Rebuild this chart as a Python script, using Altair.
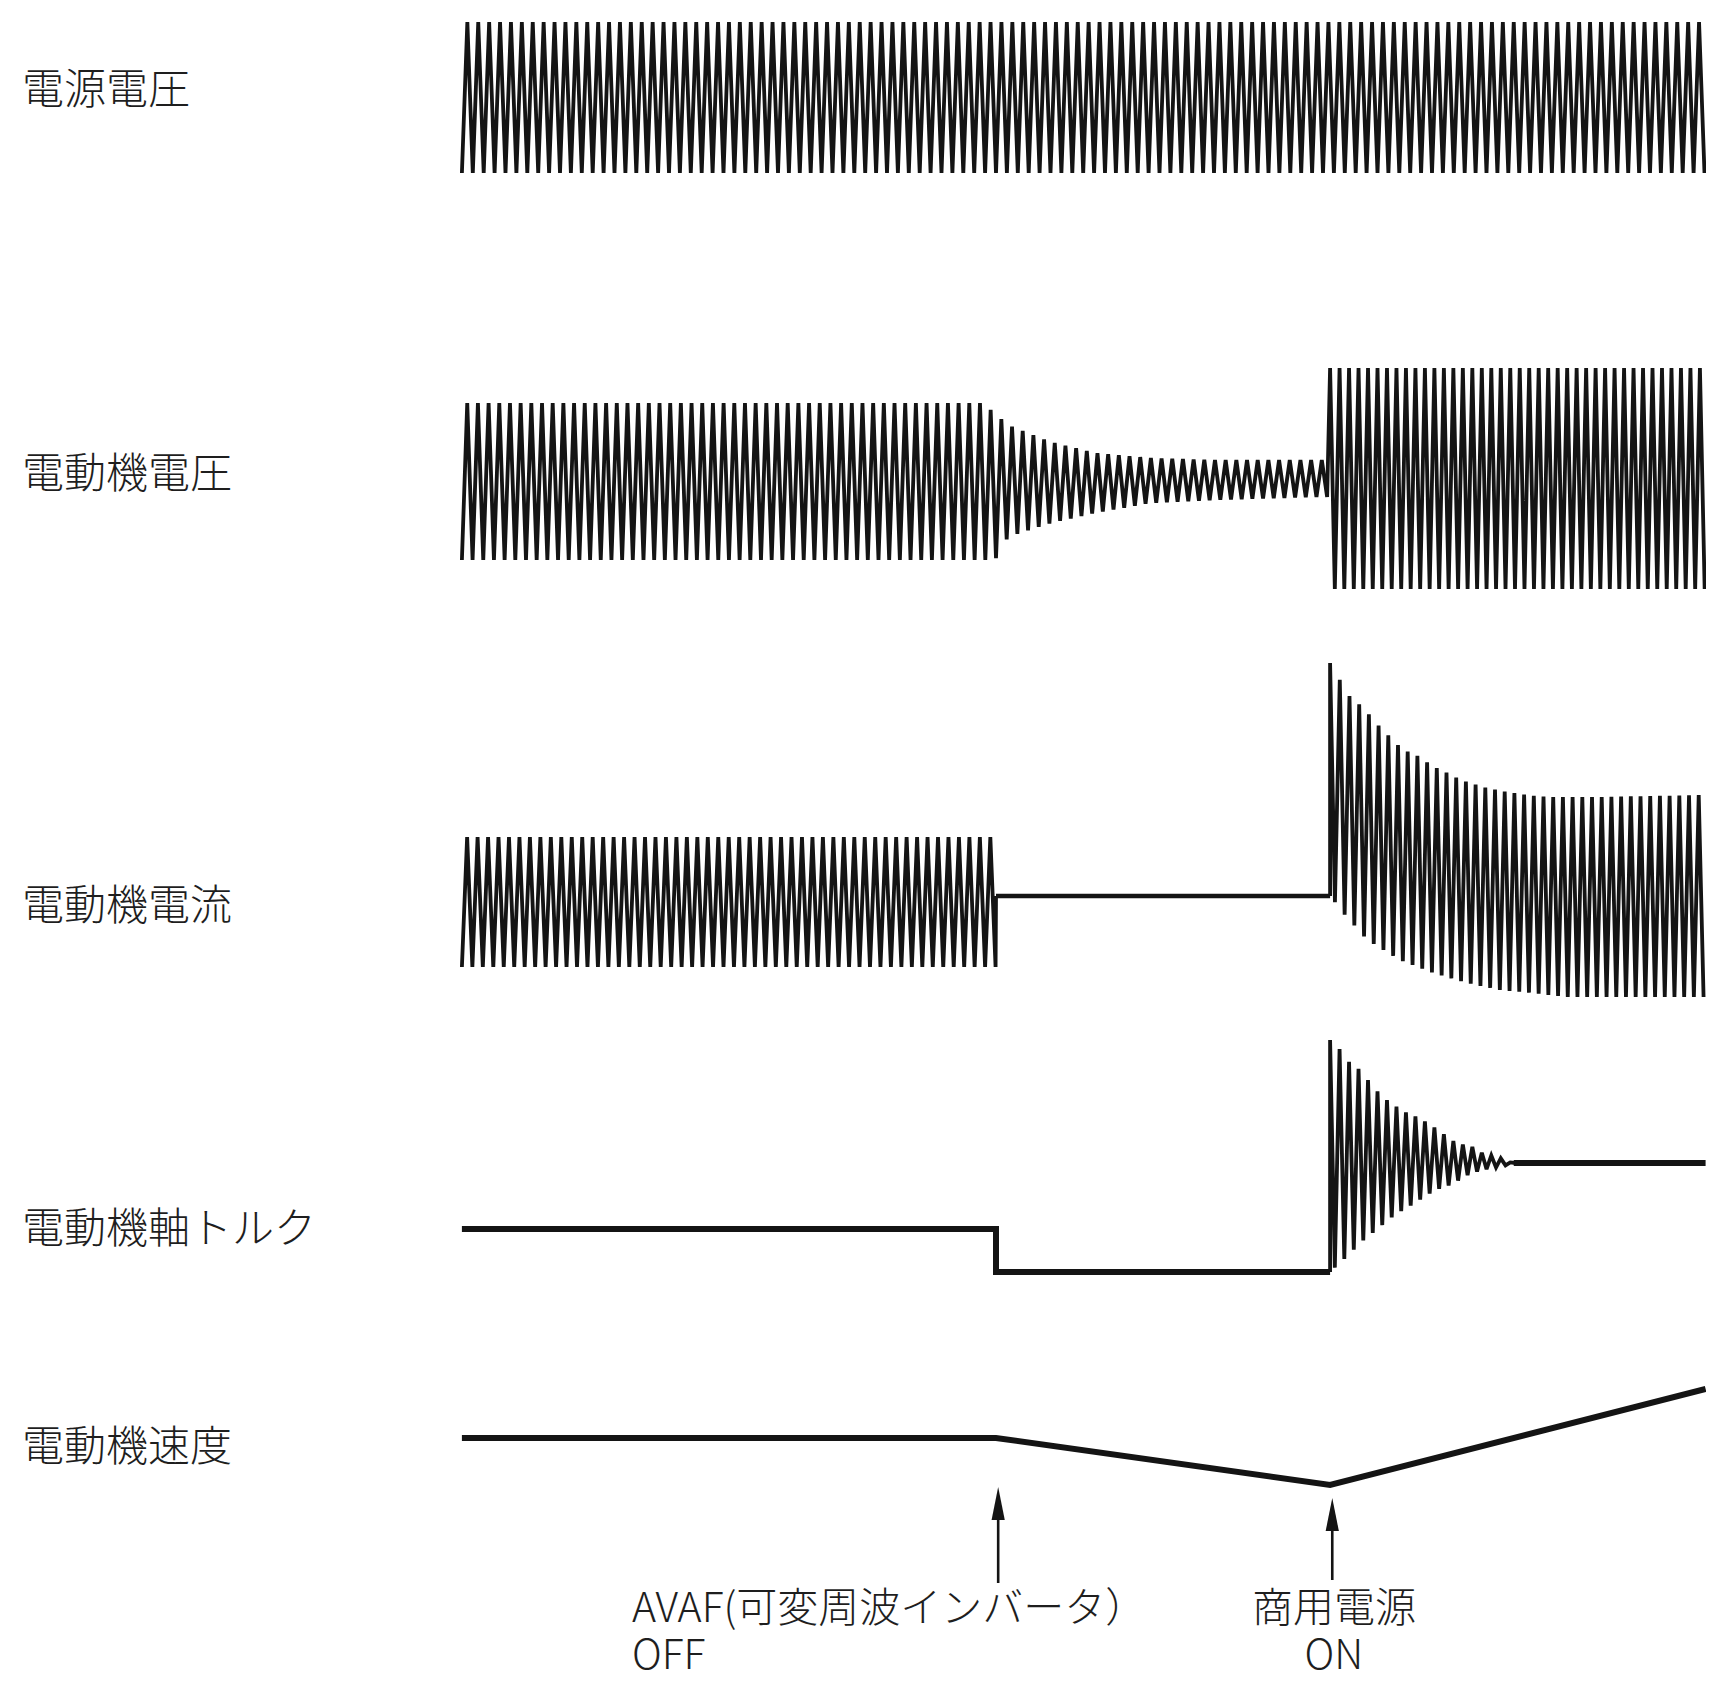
import altair as alt
import numpy as np
import pandas as pd

# ---------------- data (time in ms, 0 = AVAF OFF) ----------------
T_START = -980
T_OFF = 0
T_ON = 613
T_END = 1302

LABELS = ["電源電圧", "電動機電圧", "電動機電流", "電動機軸トルク", "電動機速度"]

# 電源電圧 : constant amplitude supply
SUP_PERIOD = 20.0
SUP_TOP = 75
SUP_BOT = -76

# 電動機電圧 : inverter, then residual voltage decaying, then supply
MV_PERIOD_1 = 19.6
MV_TOP_T = [-980, -24, 22, 101, 182, 283, 398, 582, 613]
MV_TOP_V = [77, 77, 55, 38, 27, 22, 20, 20, 20]
MV_BOT_T = [-980, -2, 22, 101, 182, 283, 398, 582, 613]
MV_BOT_V = [-80, -80, -57, -43, -33, -23, -20, -17, -17]
MV_PERIOD_2 = 17.4
MV_TOP_2 = 112
MV_BOT_2 = -109

# 電動機電流 : inverter current, zero while coasting, inrush after ON
MC_PERIOD_1 = 19.2
MC_TOP_1 = 59
MC_BOT_1 = -71
MC_PERIOD_2 = 17.8
MC_TOP_T = [613, 628, 646, 662, 681, 697, 714, 728, 747, 763, 778, 793, 809,
            828, 846, 864, 883, 901, 919, 938, 974, 1011, 1108, 1302]
MC_TOP_V = [233, 219, 201, 194, 184, 173, 164, 156, 146, 143, 139, 133, 128,
            123, 118, 114, 111, 108, 106, 104, 101, 99, 99, 101]
MC_BOT_T = [613, 637, 681, 741, 802, 864, 925, 985, 1046, 1302]
MC_BOT_V = [0, -17, -44, -64, -77, -87, -94, -97, -101, -101]

# 電動機軸トルク
TQ_BEFORE = 43
TQ_COAST = 0
TQ_FINAL = 109
TQ_PERIOD = 17.4
TQ_TOP_T = [613, 629, 648, 666, 684, 701, 717, 736, 754, 772, 789, 806, 824,
            842, 859, 875, 892, 906, 925, 939, 950]
TQ_TOP_V = [232, 224, 210, 203, 191, 180, 172, 165, 159, 155, 150, 144, 137,
            130, 127, 125, 119, 117, 114, 110, 109]
TQ_BOT_T = [613, 633, 651, 668, 686, 703, 719, 738, 754, 772, 791, 807, 824,
            842, 857, 875, 892, 910, 925, 950]
TQ_BOT_V = [0, 10, 19, 29, 37, 44, 52, 59, 64, 70, 77, 82, 85, 89, 95, 99,
            102, 104, 105, 109]
TQ_SETTLE = 945

# 電動機速度
SP_T = [-980, 0, 613, 1302]
SP_V = [47, 47, 0, 96]

# event annotations
ARROW_T = [4, 617]
NOTE_TEXT = ["AVAF(可変周波インバータ）\nOFF", "商用電源\nON"]
NOTE_T = [-668, 620]

# ---------------- layout (image pixel positions) ----------------
TRACK_ZERO = {"電源電圧": 97, "電動機電圧": 480, "電動機電流": 896,
              "電動機軸トルク": 1272, "電動機速度": 1485}
LABEL_Y = [91, 475, 907, 1230, 1448]
NOTE_Y_TOP = 1590
NOTE_ALIGN = ["left", "center"]
ARROW_Y_TAIL = [1583, 1580]
ARROW_TIP = [1487, 1498]
HEAD_LEN = 33
PX_PER_MS = 0.545
X0_PX = 996


def zigzag(t0, t1, period, top_t, top_v, bot_t, bot_v, start_top=True):
    n = int(round((t1 - t0) / (period / 2.0)))
    ts = t0 + np.arange(n + 1) * period / 2.0
    ts = ts[ts <= t1 + 1e-9]
    top = np.interp(ts, top_t, top_v)
    bot = np.interp(ts, bot_t, bot_v)
    even = (np.arange(len(ts)) % 2 == 0)
    if not start_top:
        even = ~even
    vals = np.where(even, top, bot)
    return list(zip(ts.tolist(), vals.tolist()))


# (segment name, track, line style, points)
segments = []
segments.append(("sup", "電源電圧", "wave",
                 zigzag(T_START, T_END, SUP_PERIOD, [T_START, T_END], [SUP_TOP, SUP_TOP],
                        [T_START, T_END], [SUP_BOT, SUP_BOT], start_top=False)))
segments.append(("mv", "電動機電圧", "wave",
                 zigzag(T_START, T_ON, MV_PERIOD_1, MV_TOP_T, MV_TOP_V, MV_BOT_T, MV_BOT_V, start_top=False)
                 + zigzag(T_ON, T_END, MV_PERIOD_2, [T_ON, T_END], [MV_TOP_2, MV_TOP_2],
                          [T_ON, T_END], [MV_BOT_2, MV_BOT_2])))
segments.append(("mc1", "電動機電流", "wave",
                 zigzag(T_START, T_OFF, MC_PERIOD_1, [T_START, T_OFF], [MC_TOP_1, MC_TOP_1],
                        [T_START, T_OFF], [MC_BOT_1, MC_BOT_1], start_top=False) + [(T_OFF, 0)]))
segments.append(("mc0", "電動機電流", "flat", [(T_OFF, 0), (T_ON, 0)]))
segments.append(("mc2", "電動機電流", "wave",
                 [(T_ON, 0)] + zigzag(T_ON, T_END, MC_PERIOD_2, MC_TOP_T, MC_TOP_V, MC_BOT_T, MC_BOT_V)))
segments.append(("tq1", "電動機軸トルク", "thick",
                 [(T_START, TQ_BEFORE), (T_OFF, TQ_BEFORE), (T_OFF, TQ_COAST), (T_ON, TQ_COAST)]))
segments.append(("tq2", "電動機軸トルク", "wave",
                 [(T_ON, TQ_COAST)] + zigzag(T_ON, TQ_SETTLE, TQ_PERIOD, TQ_TOP_T, TQ_TOP_V, TQ_BOT_T, TQ_BOT_V)
                 + [(TQ_SETTLE + 8, TQ_FINAL)]))
segments.append(("tq3", "電動機軸トルク", "thick", [(TQ_SETTLE + 5, TQ_FINAL), (T_END, TQ_FINAL)]))
segments.append(("sp", "電動機速度", "thick", list(zip(SP_T, SP_V))))

rows = []
for seg, track, kind, pts in segments:
    for i, (t, v) in enumerate(pts):
        rows.append({"seg": seg, "kind": kind, "i": i, "t": t, "y": TRACK_ZERO[track] - v})
df = pd.DataFrame(rows)

W, H = 1698, 1668
x_dom = [(8 - X0_PX) / PX_PER_MS, (8 + W - X0_PX) / PX_PER_MS]
xs = alt.Scale(domain=x_dom, nice=False, zero=False)
ys = alt.Scale(domain=[8, 8 + H], reverse=True, nice=False, zero=False)

FONT = "Noto Sans CJK JP"
INK = "#141414"
TXT = "#1e1e1e"
STYLE_W = {"wave": 3.8, "flat": 4.5, "thick": 6.0}


def line_layer(kind):
    return alt.Chart(df[df["kind"] == kind]).mark_line(
        color=INK, strokeWidth=STYLE_W[kind], strokeJoin="miter", strokeMiterLimit=3
    ).encode(
        x=alt.X("t:Q", scale=xs, axis=None),
        y=alt.Y("y:Q", scale=ys, axis=None),
        detail="seg:N",
        order="i:Q",
    )


label_df = pd.DataFrame({"label": LABELS, "y": LABEL_Y})
labels = alt.Chart(label_df).mark_text(
    align="left", baseline="middle", font=FONT, fontSize=42, fontWeight=300, color=TXT
).encode(
    x=alt.value(14),
    y=alt.Y("y:Q", scale=ys, axis=None),
    text="label:N",
)

note_df = pd.DataFrame({"text": NOTE_TEXT, "t": NOTE_T, "y": [NOTE_Y_TOP] * 2, "al": NOTE_ALIGN})
notes = []
for al in ["left", "center"]:
    notes.append(alt.Chart(note_df[note_df["al"] == al]).mark_text(
        align=al, baseline="top", font=FONT, fontSize=41, fontWeight=300, color=TXT,
        lineBreak="\n", lineHeight=47
    ).encode(
        x=alt.X("t:Q", scale=xs, axis=None),
        y=alt.Y("y:Q", scale=ys, axis=None),
        text="text:N",
    ))

arrow_df = pd.DataFrame({"t": ARROW_T, "y1": ARROW_Y_TAIL,
                         "y2": [v + HEAD_LEN / 2 for v in ARROW_TIP],
                         "yh": [v + HEAD_LEN / 2 for v in ARROW_TIP]})
shafts = alt.Chart(arrow_df).mark_rule(color=INK, strokeWidth=2.6).encode(
    x=alt.X("t:Q", scale=xs, axis=None),
    y=alt.Y("y1:Q", scale=ys, axis=None),
    y2="y2:Q",
)
heads = alt.Chart(arrow_df).mark_point(
    shape="M 0 -1 L 0.4 1 L -0.4 1 Z", filled=True, color=INK, opacity=1, size=HEAD_LEN ** 2
).encode(
    x=alt.X("t:Q", scale=xs, axis=None),
    y=alt.Y("yh:Q", scale=ys, axis=None),
)

chart = alt.layer(
    line_layer("wave"), line_layer("flat"), line_layer("thick"),
    labels, notes[0], notes[1], shafts, heads
).properties(
    width=W, height=H, padding=0, autosize="none", background="white"
).configure_view(stroke=None)

chart.save("out.html", embed_options={"renderer": "svg", "actions": False})
